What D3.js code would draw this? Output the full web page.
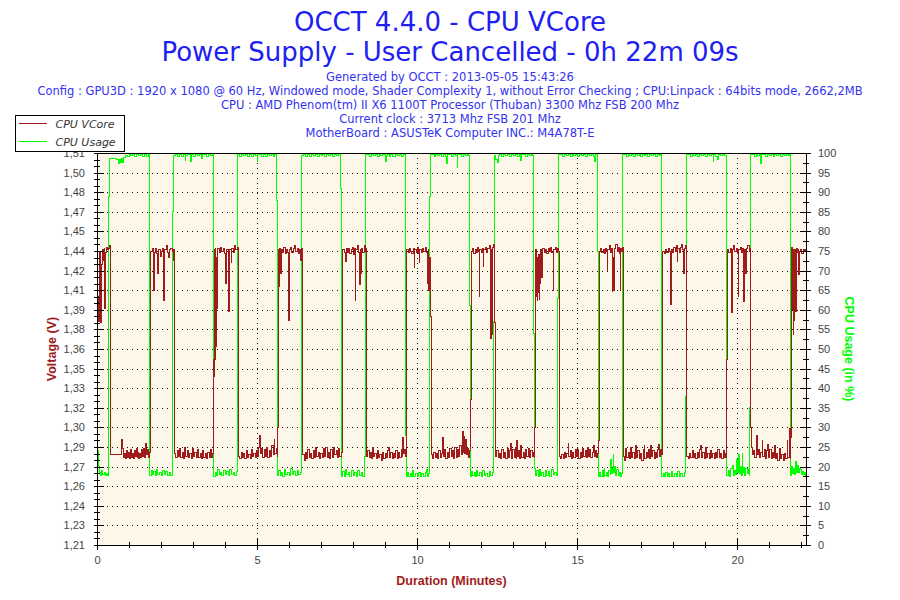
<!DOCTYPE html>
<html>
<head>
<meta charset="utf-8">
<script src="https://cdn.jsdelivr.net/npm/d3@7"></script>
<style>
  body { margin: 0; background: #fff; }
  .tick text { font-family: 'Liberation Sans', Arial, sans-serif; font-size: 11px; fill: #444; }
  .domain, .tick line { stroke: #000; shape-rendering: crispEdges; }
</style>
</head>
<body>
<div id="graf"></div>
<script>
const titleLines = ['OCCT 4.4.0 - CPU VCore', 'Power Supply - User Cancelled - 0h 22m 09s']
const infoLines = [
  'Generated by OCCT : 2013-05-05 15:43:26',
  'Config : GPU3D : 1920 x 1080 @ 60 Hz, Windowed mode, Shader Complexity 1, without Error Checking ; CPU:Linpack : 64bits mode, 2662,2MB',
  'CPU : AMD Phenom(tm) II X6 1100T Processor (Thuban) 3300 Mhz FSB 200 Mhz',
  'Current clock : 3713 Mhz FSB 201 Mhz',
  'MotherBoard : ASUSTeK Computer INC.: M4A78T-E',
]
const seriesNames = ['CPU VCore', 'CPU Usage']
const voltTicks = [1.21, 1.225, 1.24, 1.255, 1.27, 1.285, 1.3, 1.315, 1.33, 1.345, 1.36,
  1.375, 1.39, 1.405, 1.42, 1.435, 1.45, 1.465, 1.48, 1.495, 1.51]
const voltLabels = ['1,21', '1,23', '1,24', '1,26', '1,27', '1,29', '1,30', '1,32', '1,33', '1,35', '1,36',
  '1,38', '1,39', '1,41', '1,42', '1,44', '1,45', '1,47', '1,48', '1,50', '1,51']
const usageTicks = [0, 5, 10, 15, 20, 25, 30, 35, 40, 45, 50, 55, 60, 65, 70, 75, 80, 85, 90, 95, 100]
const minuteTicks = [0, 5, 10, 15, 20]

// [minutes, volts]
const vcore = [
  [0,1.432],[0.01,1.345],[0.03,1.40],[0.05,1.381],[0.07,1.418],[0.09,1.435],[0.11,1.380],[0.13,1.425],[0.16,1.436],[0.19,1.428],[0.22,1.437],[0.24,1.391],[0.26,1.434],[0.29,1.438],[0.32,1.436],[0.35,1.437],[0.38,1.439],[0.41,1.436],
  [0.43,1.279],[0.76,1.280],[0.78,1.291],[0.80,1.284],[0.83,1.277],[0.86,1.280],[0.89,1.276],[0.92,1.282],[0.95,1.277],[0.98,1.281],[1.01,1.276],[1.04,1.283],[1.07,1.277],[1.10,1.280],[1.13,1.276],[1.16,1.282],[1.19,1.278],[1.22,1.284],[1.25,1.277],[1.28,1.281],[1.31,1.276],[1.34,1.280],[1.37,1.277],[1.40,1.283],[1.43,1.278],[1.46,1.284],[1.49,1.277],[1.52,1.288],[1.54,1.279],[1.57,1.283],[1.60,1.277],[1.63,1.281],
  [1.66,1.293],[1.68,1.435],[1.72,1.437],[1.75,1.426],[1.77,1.436],[1.78,1.405],[1.80,1.434],[1.84,1.437],[1.87,1.433],[1.90,1.418],[1.92,1.436],[1.97,1.431],[2.00,1.435],[2.04,1.437],[2.08,1.3975],[2.10,1.436],[2.16,1.439],[2.19,1.434],[2.23,1.430],[2.26,1.436],[2.31,1.437],[2.35,1.435],[2.38,1.428],[2.40,1.436],
  [2.42,1.280],[2.46,1.277],[2.50,1.282],[2.54,1.278],[2.58,1.284],[2.62,1.277],[2.66,1.281],[2.70,1.276],[2.74,1.285],[2.78,1.278],[2.82,1.282],[2.86,1.277],[2.90,1.280],[2.94,1.276],[2.98,1.284],[3.02,1.278],[3.06,1.281],[3.10,1.277],[3.14,1.283],[3.18,1.277],[3.22,1.280],[3.26,1.276],[3.30,1.282],[3.34,1.277],[3.38,1.280],[3.42,1.276],[3.46,1.281],[3.50,1.277],[3.54,1.283],[3.58,1.277],[3.62,1.280],
  [3.65,1.352],[3.66,1.436],[3.67,1.339],[3.68,1.425],[3.69,1.352],[3.70,1.437],[3.71,1.362],[3.72,1.430],[3.73,1.391],[3.75,1.436],[3.77,1.414],[3.78,1.437],[3.82,1.434],[3.86,1.438],[3.90,1.435],[3.94,1.437],[3.98,1.433],[4.03,1.4105],[4.05,1.436],[4.10,1.434],[4.12,1.3886],[4.14,1.436],[4.19,1.426],[4.21,1.437],[4.25,1.434],[4.30,1.439],[4.34,1.436],[4.38,1.438],[4.41,1.435],
  [4.42,1.278],[4.46,1.276],[4.50,1.281],[4.54,1.277],[4.58,1.280],[4.62,1.276],[4.66,1.282],[4.70,1.277],[4.74,1.279],[4.78,1.276],[4.82,1.283],[4.86,1.278],[4.90,1.280],[4.94,1.277],[4.98,1.282],[5.02,1.278],[5.06,1.285],[5.08,1.294],[5.10,1.280],[5.14,1.284],[5.18,1.277],[5.22,1.283],[5.26,1.278],[5.30,1.285],[5.34,1.277],[5.38,1.282],[5.42,1.278],[5.46,1.286],[5.50,1.279],[5.54,1.291],[5.56,1.280],[5.60,1.284],[5.63,1.278],
  [5.65,1.300],[5.67,1.436],[5.69,1.408],[5.71,1.437],[5.74,1.418],[5.76,1.436],[5.80,1.434],[5.84,1.438],[5.88,1.433],[5.92,1.436],[5.96,1.434],[5.99,1.382],[6.01,1.436],[6.05,1.438],[6.09,1.434],[6.13,1.437],[6.17,1.439],[6.21,1.435],[6.25,1.437],[6.29,1.433],[6.33,1.436],[6.35,1.428],[6.38,1.437],[6.41,1.435],
  [6.43,1.279],[6.47,1.275],[6.51,1.281],[6.55,1.276],[6.59,1.283],[6.63,1.277],[6.67,1.280],[6.71,1.276],[6.75,1.282],[6.79,1.277],[6.83,1.285],[6.87,1.278],[6.91,1.281],[6.95,1.276],[6.99,1.280],[7.03,1.277],[7.07,1.284],[7.11,1.278],[7.15,1.285],[7.19,1.277],[7.23,1.281],[7.27,1.276],[7.31,1.283],[7.35,1.277],[7.39,1.285],[7.43,1.279],[7.47,1.282],[7.51,1.277],[7.55,1.284],[7.59,1.278],[7.63,1.281],
  [7.66,1.290],[7.68,1.436],[7.72,1.434],[7.76,1.427],[7.78,1.437],[7.82,1.434],[7.86,1.437],[7.90,1.433],[7.94,1.436],[7.98,1.438],[8.02,1.432],[8.05,1.437],[8.07,1.3975],[8.09,1.436],[8.13,1.439],[8.17,1.434],[8.20,1.409],[8.22,1.436],[8.25,1.418],[8.27,1.437],[8.31,1.434],[8.35,1.439],[8.38,1.435],[8.40,1.437],
  [8.42,1.278],[8.46,1.282],[8.50,1.277],[8.54,1.281],[8.58,1.276],[8.61,1.285],[8.64,1.278],[8.68,1.280],[8.72,1.276],[8.76,1.282],[8.80,1.277],[8.84,1.279],[8.88,1.275],[8.92,1.281],[8.96,1.276],[9.00,1.280],[9.04,1.277],[9.08,1.282],[9.11,1.285],[9.14,1.277],[9.18,1.281],[9.22,1.276],[9.26,1.280],[9.30,1.277],[9.34,1.282],[9.38,1.276],[9.42,1.281],[9.46,1.277],[9.50,1.283],[9.53,1.278],[9.55,1.292],[9.58,1.280],[9.62,1.283],[9.65,1.278],
  [9.66,1.306],[9.68,1.436],[9.72,1.434],[9.76,1.437],[9.80,1.435],[9.84,1.433],[9.88,1.437],[9.91,1.422],[9.93,1.436],[9.97,1.434],[10.01,1.438],[10.04,1.433],[10.07,1.426],[10.09,1.436],[10.13,1.434],[10.17,1.437],[10.21,1.435],[10.25,1.438],[10.29,1.434],[10.33,1.4105],[10.35,1.436],[10.37,1.405],[10.39,1.430],[10.41,1.3845],
  [10.44,1.279],[10.48,1.276],[10.52,1.281],[10.56,1.277],[10.60,1.280],[10.64,1.276],[10.68,1.282],[10.72,1.277],[10.76,1.280],[10.80,1.292],[10.82,1.278],[10.86,1.283],[10.90,1.276],[10.94,1.281],[10.98,1.277],[11.02,1.284],[11.06,1.278],[11.10,1.282],[11.14,1.276],[11.18,1.285],[11.22,1.277],[11.26,1.283],[11.30,1.278],[11.34,1.286],[11.38,1.279],[11.42,1.297],[11.44,1.281],[11.47,1.293],[11.49,1.280],[11.52,1.291],[11.54,1.279],[11.58,1.284],[11.62,1.277],[11.65,1.282],
  [11.67,1.321],[11.69,1.435],[11.73,1.437],[11.77,1.433],[11.81,1.436],[11.85,1.434],[11.89,1.438],[11.92,1.435],[11.94,1.400],[11.96,1.436],[12.00,1.434],[12.04,1.437],[12.07,1.423],[12.09,1.436],[12.13,1.438],[12.17,1.434],[12.21,1.437],[12.25,1.439],[12.28,1.435],[12.30,1.368],[12.32,1.436],[12.34,1.371],[12.36,1.438],[12.39,1.440],[12.41,1.431],[12.43,1.380],
  [12.45,1.278],[12.49,1.282],[12.53,1.277],[12.57,1.280],[12.61,1.276],[12.65,1.283],[12.69,1.277],[12.73,1.281],[12.77,1.276],[12.81,1.284],[12.85,1.277],[12.89,1.282],[12.93,1.288],[12.95,1.276],[12.99,1.283],[13.03,1.277],[13.07,1.285],[13.10,1.276],[13.12,1.290],[13.14,1.278],[13.18,1.282],[13.21,1.276],[13.24,1.286],[13.27,1.277],[13.31,1.281],[13.35,1.276],[13.39,1.283],[13.43,1.278],[13.48,1.284],[13.51,1.277],[13.55,1.282],[13.59,1.278],[13.63,1.281],[13.66,1.277],
  [13.68,1.300],[13.70,1.436],[13.72,1.400],[13.73,1.430],[13.75,1.3975],[13.76,1.425],[13.78,1.403],[13.79,1.432],[13.81,1.398],[13.83,1.420],[13.85,1.410],[13.87,1.436],[13.89,1.415],[13.91,1.432],[13.93,1.437],[13.97,1.434],[14.01,1.436],[14.05,1.433],[14.09,1.437],[14.13,1.435],[14.17,1.438],[14.21,1.434],[14.25,1.405],[14.27,1.436],[14.31,1.438],[14.35,1.434],[14.39,1.437],[14.42,1.435],
  [14.44,1.278],[14.48,1.276],[14.52,1.279],[14.56,1.276],[14.60,1.281],[14.64,1.277],[14.68,1.280],[14.72,1.288],[14.74,1.278],[14.78,1.282],[14.82,1.276],[14.86,1.281],[14.90,1.277],[14.94,1.283],[14.98,1.278],[15.02,1.283],[15.05,1.276],[15.09,1.281],[15.13,1.277],[15.17,1.284],[15.21,1.278],[15.25,1.282],[15.29,1.277],[15.32,1.285],[15.35,1.278],[15.39,1.283],[15.43,1.277],[15.47,1.281],[15.51,1.286],[15.54,1.278],[15.58,1.282],[15.62,1.277],[15.65,1.280],
  [15.67,1.290],[15.69,1.435],[15.73,1.437],[15.77,1.434],[15.81,1.436],[15.85,1.433],[15.89,1.437],[15.92,1.435],[15.94,1.420],[15.96,1.436],[16.00,1.439],[16.04,1.434],[16.07,1.437],[16.10,1.404],[16.12,1.430],[16.15,1.405],[16.17,1.437],[16.21,1.440],[16.25,1.435],[16.29,1.438],[16.32,1.433],[16.34,1.405],[16.36,1.437],[16.40,1.435],[16.42,1.438],
  [16.44,1.278],[16.48,1.275],[16.52,1.284],[16.55,1.277],[16.59,1.281],[16.63,1.276],[16.67,1.285],[16.70,1.277],[16.74,1.281],[16.78,1.276],[16.83,1.286],[16.86,1.277],[16.90,1.282],[16.94,1.276],[16.98,1.280],[17.02,1.275],[17.06,1.283],[17.09,1.286],[17.12,1.276],[17.16,1.281],[17.20,1.277],[17.24,1.283],[17.27,1.276],[17.30,1.286],[17.33,1.278],[17.37,1.282],[17.41,1.276],[17.45,1.281],[17.49,1.277],[17.52,1.283],[17.55,1.287],[17.58,1.278],[17.62,1.283],[17.64,1.279],
  [17.66,1.300],[17.68,1.435],[17.72,1.433],[17.76,1.436],[17.80,1.434],[17.84,1.437],[17.88,1.435],[17.92,1.394],[17.94,1.436],[17.98,1.434],[18.02,1.438],[18.06,1.435],[18.10,1.439],[18.13,1.427],[18.15,1.437],[18.19,1.434],[18.23,1.438],[18.27,1.440],[18.30,1.436],[18.33,1.418],[18.35,1.437],[18.39,1.439],[18.41,1.436],
  [18.43,1.278],[18.47,1.276],[18.51,1.280],[18.55,1.277],[18.59,1.282],[18.63,1.277],[18.67,1.280],[18.71,1.276],[18.75,1.281],[18.79,1.277],[18.83,1.283],[18.86,1.286],[18.89,1.277],[18.93,1.281],[18.97,1.276],[19.01,1.285],[19.04,1.277],[19.08,1.280],[19.12,1.276],[19.16,1.282],[19.20,1.277],[19.24,1.280],[19.28,1.276],[19.32,1.281],[19.36,1.277],[19.40,1.283],[19.44,1.277],[19.48,1.280],[19.52,1.276],[19.56,1.282],[19.60,1.277],[19.64,1.280],[19.67,1.277],
  [19.68,1.352],[19.70,1.436],[19.74,1.434],[19.78,1.437],[19.81,1.430],[19.83,1.388],[19.85,1.436],[19.89,1.439],[19.93,1.435],[19.97,1.437],[20.00,1.433],[20.03,1.400],[20.05,1.436],[20.09,1.438],[20.13,1.434],[20.17,1.437],[20.21,1.396],[20.23,1.436],[20.27,1.418],[20.29,1.437],[20.33,1.439],[20.37,1.435],[20.40,1.437],[20.42,1.300],
  [20.44,1.285],[20.47,1.279],[20.51,1.282],[20.55,1.277],[20.60,1.294],[20.62,1.279],[20.66,1.283],[20.70,1.277],[20.74,1.281],[20.78,1.290],[20.80,1.278],[20.84,1.283],[20.88,1.276],[20.92,1.282],[20.96,1.287],[20.98,1.277],[21.02,1.283],[21.06,1.276],[21.10,1.281],[21.14,1.277],[21.17,1.286],[21.19,1.276],[21.23,1.280],[21.27,1.275],[21.31,1.279],[21.33,1.284],[21.36,1.276],[21.40,1.279],[21.44,1.275],[21.48,1.280],[21.52,1.276],[21.56,1.290],[21.58,1.277],[21.62,1.281],[21.64,1.299],[21.66,1.276],[21.68,1.292],
  [21.70,1.372],[21.71,1.438],[21.73,1.390],[21.74,1.436],[21.75,1.371],[21.77,1.432],[21.78,1.382],[21.80,1.436],[21.82,1.389],[21.84,1.437],[21.87,1.434],[21.90,1.436],[21.92,1.417],[21.94,1.435],[21.98,1.436],[22.02,1.433],[22.06,1.436],[22.10,1.435],[22.13,1.436],[22.15,1.436],
]

// [minutes, percent]
const usage = [
  [0,19],[0.02,24],[0.04,20],[0.07,18.5],[0.10,17.8],[0.14,19],[0.18,18],[0.22,18.6],[0.26,17.8],[0.30,18.2],[0.34,17.8],[0.355,49],[0.37,89],
  [0.385,98.5],[0.50,98.7],[0.60,98.4],[0.68,97.4],[0.70,98.3],[0.74,97.6],[0.76,98.6],[0.80,97.5],[0.83,98.9],[0.88,99.4],[0.94,99.1],[1.00,99.6],[1.06,99.3],[1.12,99.7],[1.18,99.2],[1.24,99.6],[1.30,99.3],[1.36,99.7],[1.42,99.2],[1.48,99.6],[1.54,99.0],[1.60,99.5],[1.63,35],
  [1.65,17.8],[1.70,19.0],[1.74,18.0],[1.78,18.8],[1.82,17.8],[1.86,19.3],[1.90,18.1],[1.95,18.6],[2.00,17.8],[2.05,19.0],[2.10,18.0],[2.15,18.7],[2.20,17.8],[2.25,18.5],[2.30,17.8],[2.35,18.2],[2.37,85],
  [2.385,99.3],[2.46,99.6],[2.52,99.1],[2.58,99.7],[2.64,99.2],[2.70,99.6],[2.76,98.2],[2.78,99.4],[2.84,99.7],[2.92,97.8],[2.94,99.2],[2.96,99.6],[3.02,99.1],[3.08,99.7],[3.14,99.3],[3.20,99.6],[3.26,98.6],[3.30,99.5],[3.36,99.7],[3.42,99.2],[3.48,99.6],[3.54,99.3],[3.60,99.6],[3.63,59],
  [3.645,17.6],[3.70,18.6],[3.74,17.8],[3.78,19.2],[3.82,18.0],[3.86,18.6],[3.90,17.8],[3.95,19.0],[4.00,18.0],[4.05,18.7],[4.10,17.8],[4.15,19.3],[4.20,18.0],[4.25,18.6],[4.30,17.8],[4.35,18.8],
  [4.39,99.5],[4.46,99.1],[4.52,99.7],[4.58,99.3],[4.64,99.6],[4.70,99.0],[4.76,99.7],[4.82,99.2],[4.88,99.6],[4.94,99.3],[5.00,97.8],[5.02,99.5],[5.08,99.7],[5.14,99.2],[5.20,99.6],[5.26,99.1],[5.32,99.7],[5.38,99.3],[5.44,99.6],[5.50,99.2],[5.56,99.6],[5.61,88],
  [5.63,17.8],[5.68,18.9],[5.72,17.8],[5.76,18.5],[5.80,17.6],[5.85,19.2],[5.90,18.0],[5.95,18.6],[6.00,17.7],[6.05,19.4],[6.10,18.0],[6.15,18.7],[6.20,17.8],[6.25,19.0],[6.30,17.9],[6.35,18.5],[6.385,63],
  [6.40,99.4],[6.46,99.7],[6.52,99.2],[6.58,99.6],[6.64,99.1],[6.70,99.7],[6.76,99.3],[6.82,99.6],[6.88,99.0],[6.94,99.6],[7.00,99.3],[7.06,99.7],[7.12,99.2],[7.18,99.6],[7.24,99.3],[7.30,99.7],[7.36,99.2],[7.42,99.6],[7.48,99.3],[7.54,99.6],[7.60,99.4],[7.62,91],
  [7.64,17.5],[7.68,18.8],[7.72,17.6],[7.76,19.2],[7.80,18.0],[7.85,18.6],[7.90,17.6],[7.95,18.9],[8.00,17.8],[8.05,18.5],[8.10,17.6],[8.15,19.0],[8.20,17.8],[8.25,18.4],[8.30,17.6],[8.35,18.3],[8.37,22.5],
  [8.39,99.5],[8.45,99.7],[8.51,99.2],[8.57,99.6],[8.63,99.3],[8.69,99.7],[8.75,99.2],[8.81,99.6],[8.87,99.3],[8.93,99.7],[9.01,97.8],[9.03,99.4],[9.09,99.7],[9.13,99.0],[9.17,99.6],[9.23,99.2],[9.28,99.0],[9.32,99.6],[9.38,99.3],[9.44,99.7],[9.50,99.2],[9.54,99.0],[9.58,99.6],[9.64,28],
  [9.66,17.6],[9.70,18.5],[9.74,17.4],[9.78,18.2],[9.82,17.5],[9.86,18.9],[9.90,17.6],[9.95,18.3],[10.00,17.4],[10.05,18.6],[10.10,17.5],[10.15,18.2],[10.20,17.4],[10.25,18.5],[10.30,19.3],[10.33,17.6],[10.37,18.2],[10.39,89],
  [10.41,99.5],[10.47,99.7],[10.53,99.2],[10.59,99.6],[10.65,99.3],[10.71,99.7],[10.77,99.2],[10.83,99.6],[10.89,99.1],[10.93,97.4],[10.95,99.5],[11.01,99.7],[11.07,99.2],[11.13,99.6],[11.19,99.3],[11.25,96.4],[11.27,99.5],[11.33,99.7],[11.39,99.2],[11.45,99.6],[11.51,99.3],[11.57,99.7],[11.62,99.4],[11.645,61],
  [11.66,17.6],[11.70,18.8],[11.74,17.8],[11.78,18.4],[11.82,17.5],[11.86,19.0],[11.90,17.8],[11.95,18.5],[12.00,17.6],[12.05,18.9],[12.10,17.8],[12.15,18.3],[12.20,17.6],[12.25,18.8],[12.30,17.7],[12.35,18.4],[12.39,57],
  [12.41,99.3],[12.46,98.4],[12.50,97.5],[12.53,99.4],[12.59,99.7],[12.65,99.2],[12.71,99.6],[12.77,99.3],[12.83,99.7],[12.89,99.2],[12.95,99.6],[13.01,99.3],[13.07,99.7],[13.13,99.2],[13.19,99.6],[13.24,98.0],[13.26,99.5],[13.32,99.7],[13.38,99.2],[13.44,99.6],[13.50,99.3],[13.56,99.7],[13.62,99.4],[13.645,54],
  [13.66,19.5],[13.70,17.8],[13.74,18.9],[13.78,17.6],[13.82,19.2],[13.86,17.8],[13.90,18.6],[13.95,17.6],[14.00,19.0],[14.05,17.8],[14.10,18.7],[14.15,17.6],[14.20,19.3],[14.25,17.9],[14.30,18.6],[14.35,17.7],[14.40,63],
  [14.42,99.5],[14.48,99.7],[14.54,99.2],[14.60,99.6],[14.66,99.3],[14.72,99.7],[14.78,99.2],[14.84,99.6],[14.90,99.3],[14.96,99.7],[15.02,99.2],[15.08,99.6],[15.14,99.3],[15.20,99.7],[15.26,99.2],[15.32,99.6],[15.38,99.3],[15.44,99.6],[15.50,99.2],[15.53,97.8],[15.56,99.5],[15.62,99.6],[15.645,75],
  [15.66,17.6],[15.70,18.4],[15.74,17.5],[15.78,18.9],[15.82,17.6],[15.84,19.4],[15.87,17.8],[15.91,18.6],[15.95,17.5],[15.99,19.0],[16.03,18.0],[16.05,21.7],[16.07,18.2],[16.10,19.5],[16.13,23.0],[16.15,18.4],[16.18,20.1],[16.20,17.8],[16.24,19.3],[16.28,17.7],[16.32,18.5],[16.36,17.6],[16.39,18.3],
  [16.41,99.5],[16.47,99.7],[16.53,99.2],[16.59,99.6],[16.65,99.3],[16.71,99.7],[16.77,99.2],[16.83,99.6],[16.89,99.3],[16.95,99.7],[16.99,99.0],[17.03,99.6],[17.09,99.3],[17.15,99.7],[17.21,99.2],[17.27,99.6],[17.33,99.3],[17.39,99.7],[17.45,99.2],[17.51,99.6],[17.57,99.3],[17.62,99.6],[17.635,56],
  [17.65,17.6],[17.69,18.3],[17.73,17.5],[17.77,18.6],[17.81,17.6],[17.85,18.2],[17.89,17.5],[17.94,18.8],[17.99,17.6],[18.04,18.3],[18.09,17.5],[18.14,18.7],[18.19,17.6],[18.24,18.2],[18.29,17.5],[18.34,18.6],[18.39,38],
  [18.41,99.5],[18.47,99.7],[18.53,99.2],[18.59,99.6],[18.65,99.3],[18.71,99.7],[18.77,99.2],[18.83,99.6],[18.89,99.3],[18.95,99.7],[19.01,99.2],[19.07,99.6],[19.13,99.3],[19.19,99.7],[19.25,97.8],[19.27,99.5],[19.33,99.2],[19.40,98.3],[19.43,99.6],[19.49,99.3],[19.55,99.7],[19.61,99.4],[19.66,25],
  [19.68,17.8],[19.72,18.9],[19.76,17.6],[19.80,19.4],[19.84,20.4],[19.87,17.8],[19.91,19.0],[19.94,18.0],[19.97,21.7],[20.00,18.5],[20.03,19.6],[20.05,23.0],[20.07,18.2],[20.10,20.0],[20.13,17.8],[20.16,23.4],[20.18,18.5],[20.21,19.8],[20.24,17.8],[20.27,19.5],[20.31,18.2],[20.34,19.3],[20.37,17.8],[20.39,35],
  [20.41,99.5],[20.47,99.7],[20.53,99.2],[20.59,99.6],[20.65,99.3],[20.70,99.7],[20.73,97.4],[20.76,99.5],[20.82,99.7],[20.88,99.2],[20.94,99.6],[21.00,99.3],[21.06,99.7],[21.12,99.2],[21.18,99.6],[21.24,99.3],[21.30,99.7],[21.36,99.2],[21.42,99.6],[21.48,99.3],[21.54,99.7],[21.60,99.4],[21.64,99.6],
  [21.67,17.7],[21.69,19.5],[21.71,20.0],[21.73,18.2],[21.76,19.6],[21.79,18.0],[21.82,21.3],[21.84,18.6],[21.87,19.8],[21.90,20.4],[21.92,18.4],[21.95,19.6],[21.97,19.2],[22.00,18.1],[22.03,18.8],[22.06,17.9],[22.09,18.4],[22.12,17.6],[22.15,18.0],
]

const colorVcore = '#a01c1c'
const colorUsage = '#00ff00'

const anchoTotal = 900
const altoTotal = 600
const margin = { top: 153, right: 94, bottom: 55, left: 97 }
const ancho = anchoTotal - margin.left - margin.right
const alto = altoTotal - margin.top - margin.bottom

const svg = d3
  .select('#graf')
  .append('svg')
  .attr('width', anchoTotal)
  .attr('height', altoTotal)
  .style('display', 'block')

// titles
svg
  .selectAll('text.title')
  .data(titleLines)
  .join('text')
  .attr('class', 'title')
  .attr('x', anchoTotal / 2)
  .attr('y', (d, i) => 30.5 + i * 30)
  .attr('text-anchor', 'middle')
  .style('font-family', "'DejaVu Sans', Verdana, sans-serif")
  .style('font-size', '26px')
  .style('fill', '#2020f2')
  .text((d) => d)

svg
  .selectAll('text.info')
  .data(infoLines)
  .join('text')
  .attr('class', 'info')
  .attr('x', anchoTotal / 2)
  .attr('y', (d, i) => 80.5 + i * 14)
  .attr('text-anchor', 'middle')
  .style('font-family', "'DejaVu Sans', Verdana, sans-serif")
  .style('font-size', '11.5px')
  .style('fill', '#3333f0')
  .text((d) => d)

const g = svg
  .append('g')
  .attr('transform', `translate(${margin.left}, ${margin.top})`)

const x = d3.scaleLinear().domain([0, 22.15]).range([0, ancho])
const yV = d3.scaleLinear().domain([1.21, 1.51]).range([alto, 0])
const yU = d3.scaleLinear().domain([0, 100]).range([alto, 0])

g.append('rect')
  .attr('width', ancho)
  .attr('height', alto)
  .attr('fill', '#fdf7ea')

// dotted grid
g.append('g')
  .selectAll('line')
  .data(voltTicks.slice(1, -1))
  .join('line')
  .attr('x1', 0)
  .attr('x2', ancho)
  .attr('y1', (d) => Math.round(yV(d)) + 0.5)
  .attr('y2', (d) => Math.round(yV(d)) + 0.5)
  .attr('stroke', '#111')
  .attr('stroke-dasharray', '1,4')

g.append('g')
  .selectAll('line')
  .data(minuteTicks.slice(1))
  .join('line')
  .attr('x1', (d) => Math.round(x(d)) + 0.5)
  .attr('x2', (d) => Math.round(x(d)) + 0.5)
  .attr('y1', 0)
  .attr('y2', alto)
  .attr('stroke', '#111')
  .attr('stroke-dasharray', '1,4')

// lines
g.append('clipPath')
  .attr('id', 'clip')
  .append('rect')
  .attr('width', ancho)
  .attr('height', alto)

const lineaUsage = d3
  .line()
  .x((d) => x(d[0]))
  .y((d) => yU(d[1]))
  .curve(d3.curveStepAfter)
const lineaVcore = d3
  .line()
  .x((d) => x(d[0]))
  .y((d) => yV(d[1]))
  .curve(d3.curveStepAfter)

g.append('path')
  .attr('d', lineaUsage(usage))
  .attr('clip-path', 'url(#clip)')
  .attr('fill', 'none')
  .attr('stroke', colorUsage)
  .attr('stroke-width', 1)
  .attr('shape-rendering', 'crispEdges')

g.append('path')
  .attr('d', lineaVcore(vcore))
  .attr('clip-path', 'url(#clip)')
  .attr('fill', 'none')
  .attr('stroke', colorVcore)
  .attr('stroke-width', 1)
  .attr('shape-rendering', 'crispEdges')

// top border
g.append('line')
  .attr('x1', 0)
  .attr('x2', ancho)
  .attr('y1', 0.5)
  .attr('y2', 0.5)
  .attr('stroke', '#000')
  .attr('shape-rendering', 'crispEdges')

// axes
const voltMinor = d3.range(1.215, 1.51, 0.005).filter((v) => !voltTicks.some((t) => Math.abs(t - v) < 1e-6))
const usageMinor = d3.range(2.5, 100, 5)
const minuteMinor = d3.range(1, 23).filter((m) => m % 5 !== 0)

const yAxisL = g.append('g')
yAxisL.call(
  d3.axisLeft(yV).tickValues(voltTicks).tickFormat((d, i) => voltLabels[i]).tickSize(3).tickPadding(9).tickSizeOuter(0)
)
yAxisL.selectAll('.tick line').attr('x1', 7)
g.append('g')
  .call(d3.axisLeft(yV).tickValues(voltMinor).tickFormat('').tickSize(3).tickSizeOuter(0))
  .call((a) => a.select('.domain').remove())
  .selectAll('.tick line')
  .attr('x1', 3)

const yAxisR = g.append('g').attr('transform', `translate(${ancho}, 0)`)
yAxisR.call(d3.axisRight(yU).tickValues(usageTicks).tickSize(5).tickPadding(7).tickSizeOuter(0))
yAxisR.selectAll('.tick line').attr('x1', -6)
g.append('g')
  .attr('transform', `translate(${ancho}, 0)`)
  .call(d3.axisRight(yU).tickValues(usageMinor).tickFormat('').tickSize(3).tickSizeOuter(0))
  .call((a) => a.select('.domain').remove())
  .selectAll('.tick line')
  .attr('x1', -3)

const xAxis = g.append('g').attr('transform', `translate(0, ${alto})`)
xAxis.call(d3.axisBottom(x).tickValues(minuteTicks).tickSize(5).tickPadding(6).tickSizeOuter(0))
xAxis.selectAll('.tick line').attr('y1', -7)
g.append('g')
  .attr('transform', `translate(0, ${alto})`)
  .call(d3.axisBottom(x).tickValues(minuteMinor).tickFormat('').tickSize(3).tickSizeOuter(0))
  .call((a) => a.select('.domain').remove())
  .selectAll('.tick line')
  .attr('y1', -3)

// axis titles
const axisFont = "'Liberation Sans', Arial, sans-serif"
svg.append('text')
  .attr('transform', `translate(56, ${margin.top + alto / 2}) rotate(-90)`)
  .attr('text-anchor', 'middle')
  .style('font-family', axisFont)
  .style('font-size', '12.5px')
  .style('font-weight', 'bold')
  .style('fill', colorVcore)
  .text('Voltage (V)')

svg.append('text')
  .attr('transform', `translate(845, ${margin.top + alto / 2}) rotate(90)`)
  .attr('text-anchor', 'middle')
  .style('font-family', axisFont)
  .style('font-size', '12.5px')
  .style('font-weight', 'bold')
  .style('fill', colorUsage)
  .text('CPU Usage (in %)')

svg.append('text')
  .attr('x', margin.left + ancho / 2)
  .attr('y', 585)
  .attr('text-anchor', 'middle')
  .style('font-family', axisFont)
  .style('font-size', '12.5px')
  .style('font-weight', 'bold')
  .style('fill', colorVcore)
  .text('Duration (Minutes)')

// legend
const legend = svg.append('g').attr('transform', 'translate(15.5, 115.5)')
legend.append('rect')
  .attr('width', 109)
  .attr('height', 36)
  .attr('fill', '#fff')
  .attr('stroke', '#000')
const items = legend
  .selectAll('g')
  .data(seriesNames)
  .join('g')
  .attr('transform', (d, i) => `translate(0, ${8 + i * 18})`)
items.append('line')
  .attr('x1', 3)
  .attr('x2', 31)
  .attr('stroke', (d, i) => [colorVcore, colorUsage][i])
  .attr('shape-rendering', 'crispEdges')
items.append('text')
  .attr('x', 40)
  .attr('y', 4)
  .style('font-family', "'DejaVu Sans', Verdana, sans-serif")
  .style('font-size', '11px')
  .style('font-style', 'italic')
  .style('fill', '#333')
  .text((d) => d)
</script>
</body>
</html>
